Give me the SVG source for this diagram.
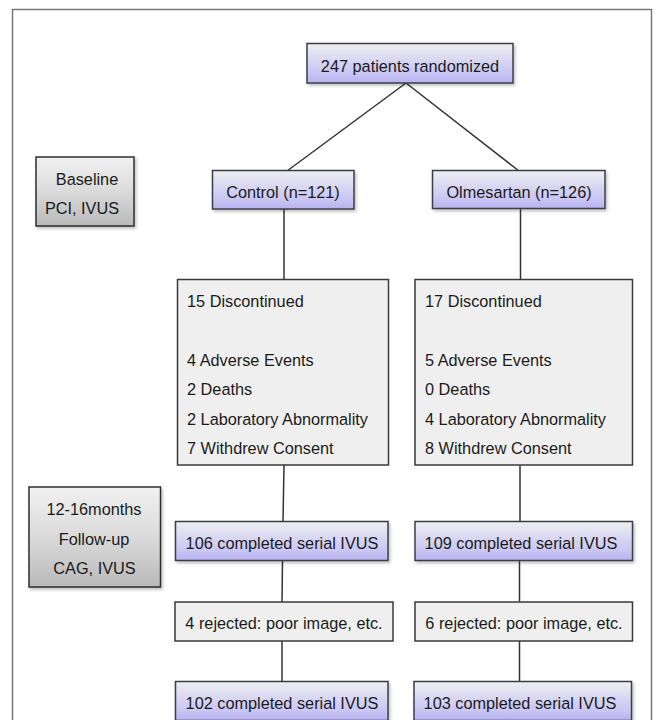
<svg xmlns="http://www.w3.org/2000/svg" width="656" height="720" viewBox="0 0 656 720">
  <defs>
    <linearGradient id="blueGrad" x1="0" y1="0" x2="0" y2="1">
      <stop offset="0" stop-color="#efeff1"/>
      <stop offset="0.3" stop-color="#dedef2"/>
      <stop offset="0.75" stop-color="#c9c5f4"/>
      <stop offset="1" stop-color="#b7b2ee"/>
    </linearGradient>
    <linearGradient id="grayGrad" x1="0" y1="0" x2="0" y2="1">
      <stop offset="0" stop-color="#f1f1f1"/>
      <stop offset="0.5" stop-color="#dadada"/>
      <stop offset="1" stop-color="#b9b9b9"/>
    </linearGradient>
    <filter id="shadow" x="-10%" y="-10%" width="125%" height="130%">
      <feDropShadow dx="1.5" dy="2" stdDeviation="1.5" flood-color="#000" flood-opacity="0.25"/>
    </filter>
  </defs>
  <style>
    text { font-family: "Liberation Sans", Arial, Helvetica, sans-serif; font-size: 16.3px; fill: #1b1b1b; }
    .c { text-anchor: middle; }
    .blue { fill: url(#blueGrad); stroke: #3c3c4a; stroke-width: 1.5; filter: url(#shadow); }
    .gray { fill: url(#grayGrad); stroke: #2e2e2e; stroke-width: 1.5; filter: url(#shadow); }
    .plain { fill: #efefef; stroke: #3a3a3a; stroke-width: 1.5; }
    .conn { stroke: #333; stroke-width: 1.5; fill: none; }
    .frame { stroke: #777; stroke-width: 1.5; fill: none; }
  </style>
  <rect x="0" y="0" width="656" height="720" fill="#ffffff"/>
  <path class="frame" d="M12.5,725 V9.5 H651.5 V725"/>

  <g id="connectors">
    <line class="conn" x1="406" y1="83" x2="287" y2="171"/>
    <line class="conn" x1="406" y1="83" x2="519" y2="171"/>
    <line class="conn" x1="284" y1="209" x2="284" y2="279"/>
    <line class="conn" x1="520.5" y1="209" x2="520.5" y2="279"/>
    <line class="conn" x1="284" y1="465" x2="283" y2="522"/>
    <line class="conn" x1="520" y1="465" x2="520" y2="522"/>
    <line class="conn" x1="282.5" y1="561" x2="282" y2="602"/>
    <line class="conn" x1="519.5" y1="561" x2="519.5" y2="602"/>
    <line class="conn" x1="282" y1="641" x2="282" y2="682"/>
    <line class="conn" x1="519.5" y1="641" x2="519.5" y2="682"/>
  </g>

  <g id="randomized">
    <rect class="blue" x="307" y="43.5" width="206" height="39.5"/>
    <text class="c" x="410" y="72">247 patients randomized</text>
  </g>

  <g id="baseline">
    <rect class="gray" x="36" y="157" width="98" height="69"/>
    <text class="c" x="87" y="185">Baseline</text>
    <text class="c" x="82" y="214">PCI, IVUS</text>
  </g>

  <g id="control">
    <rect class="blue" x="212.5" y="170.5" width="141.5" height="38.5"/>
    <text class="c" x="283" y="198">Control (n=121)</text>
  </g>

  <g id="olmesartan">
    <rect class="blue" x="432.5" y="170.5" width="172.5" height="38"/>
    <text class="c" x="519" y="198">Olmesartan (n=126)</text>
  </g>

  <g id="control-discontinued">
    <rect class="plain" x="177.5" y="279.5" width="211" height="185.5"/>
    <text x="187" y="306.5">15 Discontinued</text>
    <text x="187" y="365.5">4 Adverse Events</text>
    <text x="187" y="395">2 Deaths</text>
    <text x="187" y="425">2 Laboratory Abnormality</text>
    <text x="187" y="454">7 Withdrew Consent</text>
  </g>

  <g id="olmesartan-discontinued">
    <rect class="plain" x="415" y="279.5" width="217.5" height="185.5"/>
    <text x="425" y="306.5">17 Discontinued</text>
    <text x="425" y="365.5">5 Adverse Events</text>
    <text x="425" y="395">0 Deaths</text>
    <text x="425" y="425">4 Laboratory Abnormality</text>
    <text x="425" y="454">8 Withdrew Consent</text>
  </g>

  <g id="followup">
    <rect class="gray" x="29" y="487" width="131.5" height="100"/>
    <text class="c" x="94" y="515">12-16months</text>
    <text class="c" x="94" y="545">Follow-up</text>
    <text class="c" x="94.5" y="574">CAG, IVUS</text>
  </g>

  <g id="control-completed">
    <rect class="blue" x="175.5" y="521.5" width="212.5" height="39"/>
    <text class="c" x="282" y="549">106 completed serial IVUS</text>
  </g>

  <g id="olmesartan-completed">
    <rect class="blue" x="415" y="521.5" width="217.5" height="39"/>
    <text class="c" x="521" y="549">109 completed serial IVUS</text>
  </g>

  <g id="control-rejected">
    <rect class="plain" x="175" y="602" width="218" height="39"/>
    <text class="c" x="284" y="629">4 rejected: poor image, etc.</text>
  </g>

  <g id="olmesartan-rejected">
    <rect class="plain" x="415" y="602" width="217.5" height="39"/>
    <text class="c" x="524" y="629">6 rejected: poor image, etc.</text>
  </g>

  <g id="control-final">
    <rect class="blue" x="175.5" y="681.5" width="212.5" height="39"/>
    <text class="c" x="282" y="709">102 completed serial IVUS</text>
  </g>

  <g id="olmesartan-final">
    <rect class="blue" x="414" y="681.5" width="217.5" height="39"/>
    <text class="c" x="520" y="709">103 completed serial IVUS</text>
  </g>
</svg>
